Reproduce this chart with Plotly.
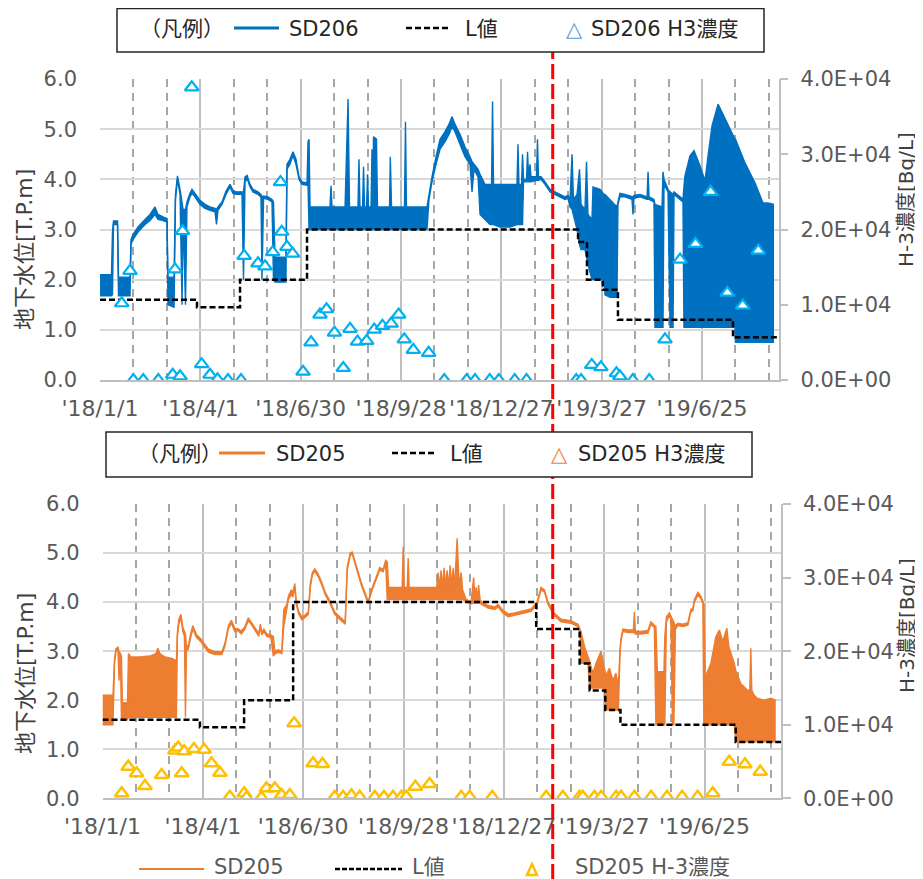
import numpy as np
import pandas as pd
import plotly.graph_objects as go

# page body has an 8px margin: figure is sized to fill the rest of the 923x879 window
PAGE_W, PAGE_H, OFF = 923, 879, 8
W, H = PAGE_W - OFF, PAGE_H - OFF
FONT = "DejaVu Sans, Noto Sans CJK JP, sans-serif"
BASE = pd.Timestamp("2018-01-01")

# ---------------- axis tick labels ----------------
tick_dates = ["2018-01-01", "2018-04-01", "2018-06-30", "2018-09-28",
              "2018-12-27", "2019-03-27", "2019-06-25"]
tick_labels = ["'18/1/1", "'18/4/1", "'18/6/30", "'18/9/28",
               "'18/12/27", "'19/3/27", "'19/6/25"]
h3_tickvals = [0, 10000, 20000, 30000, 40000]
h3_ticktext = ["0.0E+00", "1.0E+04", "2.0E+04", "3.0E+04", "4.0E+04"]

# ---------------- SD206 water level (days since 2018-01-01, low/high envelope) ----------------
sd206_day = [0, 10.3, 11.2, 12.1, 15.7, 16.6, 26.9, 27.8, 29.6, 34.1, 40.4, 44.9, 49.3, 52.0, 56.5,
             60.1, 61.0, 66.4, 67.7, 69.5, 71.8, 73.6, 74.5, 76.7, 78.0, 80.7, 82.5, 85.2, 89.7, 94.2,
             98.7, 103.2, 104.5, 105.8, 109.4, 113.0, 116.6, 119.3, 122.0, 127.4, 128.7, 130.1, 131.9,
             134.6, 137.2, 141.7, 144.4, 145.3, 146.7, 150.7, 154.3, 155.6, 157.0, 166.8, 167.7, 170.4,
             173.1, 175.8, 178.5, 181.2, 185.7, 186.6, 187.5, 188.4, 206.3, 207.2, 208.1, 219.8, 221.1,
             222.5, 223.8, 231.4, 232.3, 233.2, 235.5, 236.4, 237.3, 239.1, 240.0, 240.8, 243.1, 244.0,
             244.9, 245.3, 248.0, 248.9, 259.7, 260.4, 261.5, 273.1, 274.0, 274.9, 293.3, 295.1, 297.8,
             301.4, 305.0, 309.5, 313.1, 315.7, 318.4, 322.9, 327.4, 331.9, 333.7, 335.5, 339.1, 340.9,
             345.3, 349.8, 351.2, 352.1, 353.0, 358.8, 367.8, 374.0, 374.9, 375.8, 378.1, 379.0, 379.9,
             382.6, 383.5, 384.4, 385.7, 386.6, 391.5, 392.4, 393.3, 395.6, 399.2, 403.7, 408.1, 412.6,
             417.1, 419.8, 421.6, 423.4, 424.7, 427.9, 430.1, 431.5, 435.0, 436.4, 437.7, 441.3, 442.2,
             448.5, 452.1, 453.0, 457.5, 463.7, 464.6, 466.4, 470.9, 477.2, 478.1, 479.0, 484.4, 490.7,
             491.6, 492.5, 496.9, 497.8, 504.1, 505.0, 505.9, 509.5, 511.3, 514.0, 514.9, 520.3, 522.9,
             523.8, 524.7, 529.2, 532.8, 538.2, 542.7, 545.4, 549.0, 554.4, 560.7, 569.6, 570.0, 578.5,
             587.5, 594.7, 599.2, 604.6]
sd206_low = [1.68, 1.68, 1.70, 3.10, 3.10, 1.68, 1.68, 2.70, 2.80, 2.95, 3.10, 3.18, 3.30, 3.20, 3.18,
             3.15, 1.50, 1.45, 3.60, 4.00, 3.70, 1.50, 3.30, 1.50, 3.45, 3.65, 3.72, 3.65, 3.50, 3.42,
             3.38, 3.35, 3.10, 3.38, 3.50, 3.70, 3.85, 3.72, 3.70, 3.70, 2.00, 3.95, 4.02,
             3.85, 3.75, 3.70, 3.65, 2.00, 3.62, 3.60, 3.55, 2.00, 1.95, 1.95, 4.20, 4.30,
             4.48, 4.30, 4.00, 3.90, 3.88, 3.90, 3.00, 3.00, 3.00, 3.00, 3.00, 3.00, 3.00,
             3.00, 3.00, 3.00, 3.00, 3.00, 3.00, 3.00, 3.00, 3.00, 3.00, 3.00, 3.00, 3.00,
             3.00, 3.00, 3.00, 3.00, 3.00, 3.00, 3.00, 3.00, 3.00, 3.00, 3.00, 3.60, 3.95,
             4.30, 4.60, 4.75, 4.90, 5.05, 4.95, 4.70, 4.45, 4.30, 3.75, 4.20, 4.05, 3.30,
             3.20, 3.10, 3.10, 3.10, 3.10, 3.05, 3.05, 3.10, 3.10, 3.10, 3.10, 3.10, 3.95,
             3.95, 3.95, 3.95, 3.95, 3.95, 3.98, 3.98, 3.98, 4.00, 3.90, 3.75, 3.70, 3.65,
             3.60, 3.62, 3.45, 3.40, 3.30, 3.00, 2.70, 2.60, 2.60, 2.40, 2.30, 2.00, 2.00,
             2.00, 2.00, 1.70, 1.65, 1.65, 3.50, 3.65, 3.65, 3.60, 3.30, 3.62, 3.65, 3.60,
             3.60, 3.60, 3.55, 1.05, 1.05, 1.05, 3.90, 3.75, 1.05, 1.05, 3.70, 3.60, 3.55,
             1.05, 1.05, 1.05, 1.05, 1.05, 1.05, 1.05, 1.05, 1.05, 1.05, 1.05, 0.75, 0.75,
             0.75, 0.75, 0.75, 0.75]
sd206_high = [2.10, 2.10, 2.95, 3.17, 3.17, 2.05, 2.05, 2.80, 2.90, 3.05, 3.20, 3.30, 3.45, 3.30, 3.25,
              3.22, 2.05, 2.05, 3.70, 4.07, 3.80, 3.50, 3.40, 3.40, 3.55, 3.72, 3.80, 3.72, 3.58, 3.50,
              3.45, 3.42, 3.40, 3.45, 3.55, 3.76, 3.90, 3.78, 3.75, 3.75, 3.75, 4.05, 4.08,
              3.90, 3.80, 3.75, 3.70, 3.65, 3.67, 3.65, 3.60, 3.55, 2.45, 2.45, 4.30, 4.40,
              4.55, 4.40, 4.05, 3.95, 3.93, 4.75, 4.80, 3.45, 3.45, 3.87, 3.45, 3.45, 4.80,
              5.60, 3.45, 3.45, 4.40, 3.45, 3.45, 4.25, 3.45, 3.45, 4.10, 3.45, 3.45, 4.60,
              3.45, 4.85, 4.80, 3.45, 3.45, 4.45, 3.45, 3.45, 5.15, 3.45, 3.45, 3.70, 4.05,
              4.45, 4.80, 4.95, 5.10, 5.25, 5.10, 4.90, 4.65, 4.45, 4.35, 4.30, 4.20, 4.10,
              3.90, 3.90, 3.90, 5.55, 3.90, 3.90, 3.90, 3.90, 4.70, 3.90, 3.90, 4.50, 4.00,
              4.00, 4.55, 4.05, 4.30, 4.05, 4.05, 4.80, 4.05, 4.05, 3.95, 3.80, 3.75, 3.70,
              3.65, 3.68, 3.60, 4.50, 3.60, 3.70, 4.20, 3.50, 3.40, 4.35, 3.30, 3.20, 3.85,
              3.80, 3.70, 3.70, 3.60, 3.45, 3.55, 3.72, 3.70, 3.65, 3.65, 3.68, 3.70, 3.65,
              4.15, 3.65, 3.60, 3.50, 3.45, 4.15, 4.00, 3.80, 3.75, 3.70, 3.75, 3.65, 3.60,
              3.85, 4.07, 4.47, 4.57, 4.27, 3.97, 4.47, 5.07, 5.50, 5.20, 4.80, 4.80, 4.33,
              3.93, 3.53, 3.53, 3.50]

# ---------------- SD206 L value (step) ----------------
sd206_L_day = [0, 87.0, 125.6, 185.7, 428.8, 436.8, 451.0, 464.6, 567.8, 608.6]
sd206_L_val = [1.6, 1.45, 2.0, 3.0, 2.75, 2.0, 1.8, 1.2, 0.85, 0.85]

# ---------------- SD206 H3 concentration [Bq/L] ----------------
sd206_h3_day = [19.5, 26.9, 29.9, 38.8, 52.3, 65.2, 67.3, 71.8, 74.0, 82.3, 91.2, 98.7, 105.4, 114.8,
                126.5, 129.3, 141.7, 148.0, 154.9, 161.9, 163.0, 167.7, 172.7, 182.1, 189.3, 197.3,
                203.2, 210.3, 218.2, 224.3, 231.0, 239.2, 246.0, 253.4, 261.2, 267.9, 272.9, 281.0,
                294.8, 308.8, 328.9, 336.4, 349.6, 357.7, 372.0, 382.6, 427.2, 431.5, 441.1, 449.3,
                463.2, 466.3, 477.9, 492.7, 506.8, 520.3, 534.2, 547.7, 562.7, 576.5, 590.5]
sd206_h3_val = [10200, 14500, 0, 0, 0, 700, 14700, 500, 19800, 38900, 2100, 700, 100, 0,
                0, 16500, 15500, 15100, 17000, 26300, 19700, 17700, 16800, 1100, 5000, 8700,
                9400, 6300, 1600, 6800, 5100, 5200, 6700, 7200, 7500, 8700, 5400, 4000,
                3600, 0, 0, 0, 0, 0, 0, 0, 0, 0, 2000, 1700,
                900, 500, 0, 0, 5400, 16000, 18100, 25000, 11600, 9900, 17200]

# ---------------- SD205 water level ----------------
sd205_day = [0, 9.4, 10.8, 12.1, 13.9, 14.8, 16.1, 17.0, 17.9, 22.4, 23.3, 25.5, 33.6, 42.6, 47.9,
             49.7, 51.5, 56.0, 62.3, 66.3, 67.2, 68.5, 70.3, 72.1, 73.5, 74.4, 75.3, 77.1, 79.3, 81.1,
             84.2, 88.7, 91.8, 95.0, 100.8, 107.1, 109.8, 112.9, 115.6, 118.7, 121.4, 124.5, 127.7,
             130.8, 133.1, 135.3, 138.4, 140.2, 141.6, 142.9, 144.7, 147.4, 151.0, 153.2, 154.6, 157.7,
             160.8, 162.6, 165.3, 166.7, 169.3, 170.7, 172.5, 173.8, 176.1, 178.8, 181.4, 184.6, 186.4,
             188.2, 190.4, 193.5, 196.7, 199.8, 203.8, 208.3, 212.8, 217.7, 219.5, 222.2, 224.0, 227.6,
             232.1, 238.3, 241.5, 248.6, 251.8, 254.0, 255.4, 256.7, 268.8, 269.7, 270.6, 273.3, 274.2,
             275.1, 299.7, 301.1, 302.4, 303.7, 305.1, 306.4, 307.8, 309.1, 310.5, 311.8, 313.2, 314.5,
             315.8, 318.1, 319.9, 321.7, 323.0, 326.1, 330.6, 332.9, 334.2, 335.1, 336.4, 337.3, 338.7,
             340.0, 345.9, 351.7, 354.8, 359.3, 363.8, 369.6, 378.6, 384.4, 389.8, 393.3, 396.5, 399.6,
             405.4, 411.3, 420.2, 426.5, 428.3, 429.2, 432.3, 435.5, 436.8, 439.9, 442.6, 447.1, 450.2,
             451.6, 454.7, 457.9, 460.5, 462.8, 464.1, 465.0, 466.8, 471.3, 476.2, 477.1, 478.0, 482.9,
             489.2, 491.9, 495.0, 496.4, 497.7, 503.6, 504.4, 505.8, 508.5, 509.8, 511.2, 512.5, 513.9,
             516.1, 520.6, 525.1, 527.7, 529.5, 530.9, 534.0, 536.7, 538.5, 539.4, 540.7, 545.7, 550.1,
             553.3, 556.4, 560.0, 561.8, 566.7, 568.1, 572.5, 578.4, 580.6, 581.5, 582.4, 584.6, 587.3,
             593.6, 599.4, 603.9]
sd205_low = [1.50, 1.50, 2.75, 3.00, 3.02, 2.40, 2.85, 1.60, 1.60, 1.60, 1.65, 1.65, 1.65, 1.65, 1.65,
             1.65, 1.65, 1.65, 1.65, 1.65, 3.30, 3.55, 3.68, 3.40, 3.30, 1.65, 3.00, 3.05, 3.30, 3.45,
             3.28, 3.18, 3.08, 2.98, 2.93, 2.93, 3.10, 3.46, 3.57, 3.40, 3.42, 3.35, 3.45,
             3.62, 3.56, 3.48, 3.38, 3.30, 3.50, 3.33, 3.40, 3.30, 3.28, 2.90, 2.94, 2.98,
             2.95, 3.50, 3.85, 4.05, 4.15, 4.10, 4.30, 3.95, 3.75, 3.64, 3.68, 3.75, 4.30,
             4.55, 4.63, 4.52, 4.35, 4.15, 3.98, 3.75, 3.65, 3.55, 4.65, 4.95, 4.98, 4.70,
             4.35, 3.97, 4.22, 4.65, 4.62, 4.80, 4.05, 4.05, 4.05, 4.05, 4.05, 4.05, 4.05,
             4.05, 4.05, 4.05, 4.05, 4.05, 4.05, 4.05, 4.05, 4.05, 4.05, 4.05, 4.05, 4.05,
             4.05, 4.05, 4.05, 4.05, 4.05, 4.02, 3.96, 3.98, 3.98, 3.98, 3.98, 3.98, 3.98,
             3.95, 3.88, 3.85, 3.90, 3.78, 3.70, 3.73, 3.77, 3.81, 3.95, 4.25, 4.20, 3.95,
             3.72, 3.60, 3.57, 3.50, 3.40, 2.75, 2.75, 2.75, 2.25, 2.25, 2.25, 2.25, 2.25,
             1.80, 1.80, 1.80, 1.80, 1.80, 2.90, 3.20, 3.40, 3.38, 3.38, 3.38, 3.35, 3.35,
             3.37, 3.55, 3.48, 1.50, 1.50, 1.50, 1.50, 3.60, 3.72, 3.65, 1.50, 1.50, 3.45,
             3.52, 3.50, 3.53, 3.80, 3.82, 4.00, 4.14, 4.08, 3.97, 1.50, 1.50, 1.50, 1.50,
             1.50, 1.50, 1.50, 1.50, 1.50, 1.15, 1.15, 1.15, 1.15, 1.15, 1.15, 1.15, 1.15,
             1.15, 1.15, 1.15]
sd205_high = [2.10, 2.10, 2.85, 3.05, 3.08, 3.00, 2.95, 2.90, 1.95, 1.95, 2.95, 2.88, 2.88, 2.90, 2.95,
              3.06, 2.95, 2.88, 2.85, 2.80, 3.40, 3.65, 3.75, 3.48, 3.40, 3.35, 3.10, 3.12, 3.38, 3.52,
              3.34, 3.24, 3.14, 3.04, 2.99, 2.99, 3.16, 3.52, 3.63, 3.46, 3.46, 3.41, 3.50,
              3.68, 3.60, 3.52, 3.42, 3.36, 3.55, 3.38, 3.45, 3.35, 3.33, 3.30, 3.00, 3.03,
              3.00, 3.85, 3.95, 4.12, 4.25, 4.20, 4.38, 4.02, 3.80, 3.70, 3.73, 3.80, 4.38,
              4.60, 4.68, 4.57, 4.40, 4.20, 4.03, 3.80, 3.70, 3.60, 4.72, 5.00, 5.02, 4.75,
              4.40, 4.02, 4.27, 4.70, 4.67, 4.85, 4.82, 4.30, 4.30, 5.13, 4.30, 4.30, 4.90,
              4.30, 4.30, 4.60, 4.30, 4.65, 4.30, 4.70, 4.30, 4.65, 4.30, 4.75, 4.30, 4.70,
              4.30, 5.30, 4.35, 4.60, 4.25, 4.06, 4.00, 4.50, 4.05, 4.30, 4.05, 4.35, 4.05,
              4.00, 3.93, 3.90, 3.95, 3.83, 3.76, 3.78, 3.82, 3.86, 4.00, 4.30, 4.25, 4.00,
              3.77, 3.65, 3.62, 3.55, 3.45, 3.40, 3.10, 2.90, 2.80, 2.55, 2.75, 3.00, 2.70,
              2.50, 2.65, 2.40, 2.55, 2.30, 3.00, 3.25, 3.45, 3.43, 3.43, 3.80, 3.40, 3.40,
              3.42, 3.60, 3.53, 3.50, 2.58, 2.58, 3.30, 3.70, 3.78, 3.72, 3.65, 3.60, 3.52,
              3.57, 3.55, 3.58, 3.85, 3.87, 4.05, 4.20, 4.12, 4.02, 3.95, 2.48, 2.75, 3.29,
              3.43, 3.20, 3.47, 3.09, 2.75, 2.60, 2.34, 2.21, 2.20, 3.06, 2.20, 2.10, 2.04,
              2.00, 2.04, 2.00]

# ---------------- SD205 L value (step) ----------------
sd205_L_day = [0, 87.4, 127.0, 171.0, 389.0, 428.0, 437.0, 451.0, 464.6, 568.0, 608.6]
sd205_L_val = [1.6, 1.45, 2.0, 4.0, 3.45, 2.75, 2.2, 1.8, 1.5, 1.15, 1.15]

# ---------------- SD205 H3 concentration [Bq/L] ----------------
sd205_h3_day = [17.2, 23.1, 30.6, 38.1, 53.0, 65.0, 67.9, 71.0, 73.3, 82.0, 91.2, 97.8, 105.3, 114.2,
                127.1, 129.2, 142.6, 147.1, 154.6, 160.6, 168.0, 171.9, 188.9, 197.3, 208.3, 215.8,
                223.3, 230.7, 244.2, 252.5, 260.6, 268.1, 272.6, 280.6, 293.4, 321.8, 329.3, 349.6,
                398.0, 412.9, 427.8, 430.8, 441.3, 447.3, 460.7, 465.2, 477.1, 492.1, 506.4, 519.9,
                533.8, 547.3, 562.2, 576.3, 590.0]
sd205_h3_val = [680, 4300, 3400, 1670, 3170, 6500, 6900, 3400, 6400, 6700, 6600, 4760, 3480, 220,
                680, 100, 100, 1360, 1360, 450, 450, 10190, 4760, 4660, 200, 200,
                400, 200, 200, 200, 200, 200, 200, 1580, 1940, 200, 200, 200,
                200, 200, 200, 200, 200, 200, 200, 200, 200, 200, 200, 200,
                200, 680, 4970, 4620, 3620]

# ---------------- colours ----------------
C206 = "#0070C0"
C206_H3 = "#00B0F0"
C205 = "#ED7D31"
C205_H3 = "#FFC000"
TICK_C = "#595959"


def dates(days):
    return BASE + pd.to_timedelta(np.asarray(days, dtype=float), unit="D")


def px(x):
    """window pixel x -> paper fraction"""
    return (x - OFF) / W


def py(y):
    """window pixel y (from top) -> paper fraction"""
    return 1 - (y - OFF) / H


fig = go.Figure()


def add_panel(xa, ya, ya2, day, low, high, col, L_day, L_val, h_day, h_val, hcol, msize, mlw):
    x = dates(day)
    fig.add_trace(go.Scatter(x=x, y=low, mode="lines", line=dict(color=col, width=1.4),
                             xaxis=xa, yaxis=ya, showlegend=False, hoverinfo="skip"))
    fig.add_trace(go.Scatter(x=x, y=high, mode="lines", line=dict(color=col, width=1.4),
                             fill="tonexty", fillcolor=col,
                             xaxis=xa, yaxis=ya, showlegend=False, hoverinfo="skip"))
    fig.add_trace(go.Scatter(x=dates(L_day), y=L_val, mode="lines", line_shape="hv",
                             line=dict(color="black", width=2.5, dash="6px,3px"),
                             xaxis=xa, yaxis=ya, showlegend=False))
    fig.add_trace(go.Scatter(x=dates(h_day), y=h_val, mode="markers",
                             marker=dict(symbol="triangle-up", size=msize, color="white",
                                         line=dict(color=hcol, width=mlw)),
                             xaxis=xa, yaxis=ya2, showlegend=False))


add_panel("x", "y", "y2", sd206_day, sd206_low, sd206_high, C206,
          sd206_L_day, sd206_L_val, sd206_h3_day, sd206_h3_val, C206_H3, 12, 2.2)
add_panel("x2", "y3", "y4", sd205_day, sd205_low, sd205_high, C205,
          sd205_L_day, sd205_L_val, sd205_h3_day, sd205_h3_val, C205_H3, 12, 2.5)

x_end = str(BASE + pd.Timedelta(days=608.6))
xcommon = dict(type="date", range=["2018-01-01", x_end], tickmode="array",
               tickvals=tick_dates, ticktext=tick_labels, automargin=False,
               showgrid=True, gridcolor="#BFBFBF", gridwidth=1.5,
               ticks="", showline=True, linecolor="#BFBFBF", linewidth=1.5, zeroline=False,
               tickfont=dict(family=FONT, size=22, color=TICK_C), ticklabelstandoff=8,
               minor=dict(tickmode="linear", tick0="2018-01-01", dtick=30 * 86400000,
                          showgrid=True, gridcolor="#A6A6A6", gridwidth=2, griddash="8px,6px",
                          ticks=""))
ycommon = dict(range=[0, 6], tickmode="linear", tick0=0, dtick=1, tickformat=".1f",
               automargin=False,
               showgrid=True, gridcolor="#D9D9D9", gridwidth=1.5, zeroline=False, showline=False,
               ticks="", tickfont=dict(family=FONT, size=21, color=TICK_C), ticklabelstandoff=22)
y2common = dict(range=[0, 40000], tickmode="array", tickvals=h3_tickvals, ticktext=h3_ticktext,
                automargin=False,
                showgrid=False, zeroline=False, showline=True, linecolor="#BFBFBF", linewidth=1.5,
                ticks="outside", ticklen=8, tickcolor="#BFBFBF", tickwidth=1.5, side="right",
                tickfont=dict(family=FONT, size=21, color=TICK_C), ticklabelstandoff=8)

fig.update_layout(
    width=W, height=H, margin=dict(l=0, r=0, t=0, b=0, autoexpand=False),
    paper_bgcolor="white", plot_bgcolor="white", showlegend=False,
    font=dict(family=FONT, color="#262626"),
    xaxis=dict(domain=[px(100), px(778.5)], anchor="y", **xcommon),
    yaxis=dict(domain=[py(380), py(79)], anchor="x", **ycommon),
    yaxis2=dict(overlaying="y", anchor="x", **y2common),
    xaxis2=dict(domain=[px(102.5), px(781)], anchor="y3", **xcommon),
    yaxis3=dict(domain=[py(798.3), py(504)], anchor="x2", **ycommon),
    yaxis4=dict(overlaying="y3", anchor="x2", **y2common),
)

shapes = []
# red event line across the whole figure
shapes.append(dict(type="line", xref="paper", yref="paper",
                   x0=px(552.7), x1=px(552.7), y0=0, y1=py(40),
                   line=dict(color="#FF0000", width=3, dash="15px,5px"), layer="above"))
# legend boxes
shapes.append(dict(type="rect", xref="paper", yref="paper", x0=px(117), x1=px(764),
                   y0=py(52), y1=py(8.5), line=dict(color="#262626", width=1.5),
                   fillcolor="white", layer="above"))
shapes.append(dict(type="rect", xref="paper", yref="paper", x0=px(106), x1=px(752),
                   y0=py(477), y1=py(432), line=dict(color="#262626", width=1.5),
                   fillcolor="white", layer="above"))


def hline(x0, x1, y, color, width, dash="solid"):
    shapes.append(dict(type="line", xref="paper", yref="paper", x0=px(x0), x1=px(x1),
                       y0=py(y), y1=py(y), line=dict(color=color, width=width, dash=dash),
                       layer="above"))


hline(234, 279, 28, C206, 3)
hline(406, 451, 28, "black", 2.5, "6px,3px")
hline(219, 265, 453, C205, 3)
hline(392, 437, 453, "black", 2.5, "6px,3px")
hline(139, 204, 869, C205, 2)
hline(335, 402, 869, "black", 2.5, "5px,2px")
# small yellow triangle of bottom legend
shapes.append(dict(type="path", xref="paper", yref="paper",
                   path=f"M {px(527)},{py(875)} L {px(537)},{py(875)} L {px(532)},{py(864)} Z",
                   line=dict(color=C205_H3, width=2.5), fillcolor="white", layer="above"))
fig.update_layout(shapes=shapes)

ann = []


def text(x, y, s, size=21, color="#262626", xanchor="left", angle=0):
    ann.append(dict(x=px(x), y=py(y), xref="paper", yref="paper", text=s, showarrow=False,
                    xanchor=xanchor, yanchor="middle", textangle=angle,
                    font=dict(family=FONT, size=size, color=color)))


# top legend box
text(138, 29, "（凡例）")
text(287, 29, "SD206")
text(463, 29, "L値")
text(574, 29, "△", color="#5B9BD5", xanchor="center")
text(589, 29, "SD206 H3濃度")
# bottom legend box
text(136, 454, "（凡例）")
text(274, 454, "SD205")
text(448, 454, "L値")
text(559, 454, "△", color=C205, xanchor="center")
text(576, 454, "SD205 H3濃度")
# bottom legend (chart's own)
text(212, 867, "SD205", color=TICK_C)
text(410, 867, "L値", color=TICK_C)
text(573, 867, "SD205 H-3濃度", color=TICK_C)
# axis titles
text(25, 250, "地下水位[T.P.m]", size=22, color="#404040", xanchor="center", angle=-90)
text(25, 674, "地下水位[T.P.m]", size=22, color="#404040", xanchor="center", angle=-90)
text(906, 200, "H-3濃度[Bq/L]", size=20, color="#404040", xanchor="center", angle=-90)
text(907, 626, "H-3濃度[Bq/L]", size=20, color="#404040", xanchor="center", angle=-90)
fig.update_layout(annotations=ann)

fig.write_html("out.html")
